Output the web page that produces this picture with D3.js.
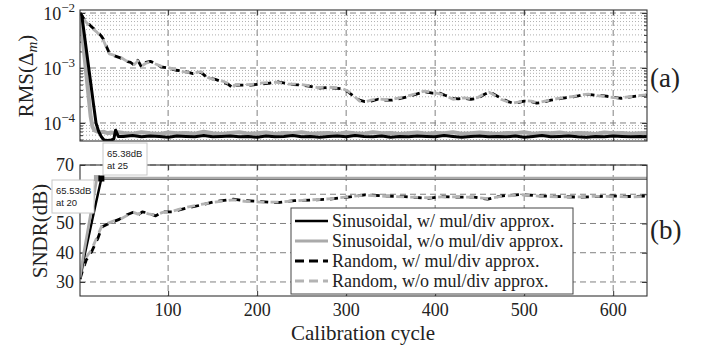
<!DOCTYPE html>
<html><head><meta charset="utf-8">
<script src="https://cdn.jsdelivr.net/npm/d3@7/dist/d3.min.js"></script>
<style>body{margin:0;background:#fff}svg{display:block}</style>
</head><body><svg id="c" width="701" height="347"></svg>
<script>
// ---------------- data ----------------
const xTicks = [100, 200, 300, 400, 500, 600];
const rmsTicks = [1e-2, 1e-3, 1e-4];
const rmsTickExp = ["\u22122", "\u22123", "\u22124"];
const sndrTicks = [30, 40, 50, 60, 70];
const sndrTickHiddenByTip = [60];
const seriesNames = ["Sinusoidal, w/ mul/div approx.", "Sinusoidal, w/o mul/div approx.",
                     "Random, w/ mul/div approx.", "Random, w/o mul/div approx."];

// (a) RMS, sinusoidal input: initial descent
const rmsSinBlackHeadCycles = [1, 3, 6, 10, 13, 16, 19, 22, 25, 28, 32, 36, 39, 41, 44];
const rmsSinBlackHead = [1e-2, 9e-3, 3.9e-3, 1.26e-3, 5.4e-4, 2.3e-4, 1.0e-4, 7.0e-5, 5.6e-5, 4.9e-5, 4.8e-5, 4.9e-5, 5.1e-5, 7.4e-5, 5.7e-5];
const rmsSinGreyHeadCycles = [1, 4, 7, 10, 13, 15, 17, 20, 24, 28, 32, 36, 40, 44];
const rmsSinGreyHead = [1e-2, 3.4e-3, 1.15e-3, 3.9e-4, 1.3e-4, 8.6e-5, 7.4e-5, 7.0e-5, 6.8e-5, 6.9e-5, 6.5e-5, 6.7e-5, 6.6e-5, 6.8e-5];
// (a) RMS, sinusoidal input: steady state
const noiseCycles = [50,60,70,80,90,100,110,120,130,140,150,160,170,180,190,200,210,220,230,240,
  250,260,270,280,290,300,310,320,330,340,350,360,370,380,390,400,410,420,430,440,
  450,460,470,480,490,500,510,520,530,540,550,560,570,580,590,600,610,620,630,638];
const rmsSinBlackTail = [5.7e-5,5.9e-5,5.6e-5,5.8e-5,5.7e-5,5.5e-5,5.8e-5,5.7e-5,5.6e-5,5.9e-5,
  5.6e-5,5.7e-5,5.8e-5,5.6e-5,5.7e-5,5.5e-5,5.8e-5,5.6e-5,5.7e-5,5.9e-5,
  5.6e-5,5.7e-5,5.5e-5,5.7e-5,5.8e-5,5.6e-5,5.9e-5,5.7e-5,5.6e-5,5.8e-5,
  5.5e-5,5.7e-5,5.6e-5,5.8e-5,5.7e-5,5.6e-5,5.9e-5,5.7e-5,5.5e-5,5.7e-5,
  5.8e-5,5.6e-5,5.7e-5,5.6e-5,5.8e-5,5.5e-5,5.7e-5,5.9e-5,5.6e-5,5.7e-5,
  5.8e-5,5.6e-5,5.5e-5,5.7e-5,5.6e-5,5.8e-5,5.7e-5,5.6e-5,5.7e-5,5.6e-5];
const rmsSinGreyTail = [6.6e-5,6.4e-5,6.8e-5,6.5e-5,6.3e-5,6.7e-5,6.5e-5,6.6e-5,6.4e-5,6.9e-5,
  6.5e-5,6.3e-5,6.6e-5,6.8e-5,6.4e-5,6.5e-5,6.7e-5,6.3e-5,6.6e-5,6.5e-5,
  6.8e-5,6.4e-5,6.5e-5,6.6e-5,6.3e-5,6.7e-5,6.5e-5,6.4e-5,6.8e-5,6.5e-5,
  6.6e-5,6.3e-5,6.5e-5,6.7e-5,6.4e-5,6.6e-5,6.5e-5,6.8e-5,6.4e-5,6.5e-5,
  6.7e-5,6.5e-5,6.3e-5,6.6e-5,6.5e-5,6.8e-5,6.4e-5,6.6e-5,6.5e-5,6.7e-5,
  6.4e-5,6.6e-5,6.5e-5,6.3e-5,6.7e-5,6.5e-5,6.6e-5,6.4e-5,6.5e-5,6.6e-5];

// (a) RMS, random input
const rmsRandCycles = [1,6,11,14,20,25,28,31,34,40, 47,53,58,62,66,70,75,80,86,92,
  100,109,118,128,137,145,152,161,168,173, 176,185,193,203,212,223,233,241,249,258,
  268,278,287,295,302,309,315,321,328,336, 344,352,361,369,378,388,397,405,411,416,
  420,426,433,440,448,455,461,468,474,482, 487,493,500,508,514,519,530,542,556,564,
  572,581,590,600,609,618,628,638];
const rmsRandBlack = [1.0e-2,7.6e-3,6.3e-3,5.6e-3,4.7e-3,3.8e-3,3.2e-3,2.4e-3,1.86e-3,1.66e-3,
  1.51e-3,1.32e-3,1.26e-3,1.12e-3,1.38e-3,1.05e-3,1.26e-3,1.32e-3,1.2e-3,1.05e-3,
  1.0e-3,9.1e-4,8.7e-4,7.9e-4,8.3e-4,6.5e-4,6.3e-4,5.6e-4,5.0e-4,4.3e-4,
  4.9e-4,4.9e-4,4.9e-4,5.1e-4,5.25e-4,5.6e-4,5.25e-4,5.0e-4,4.9e-4,4.7e-4,
  4.3e-4,4.4e-4,4.3e-4,4.2e-4,3.7e-4,3.0e-4,2.6e-4,2.45e-4,2.5e-4,2.7e-4,
  2.6e-4,2.6e-4,2.8e-4,3.0e-4,3.3e-4,3.7e-4,3.5e-4,3.5e-4,3.2e-4,3.0e-4,
  2.8e-4,2.75e-4,2.8e-4,2.7e-4,2.8e-4,3.3e-4,3.7e-4,3.2e-4,2.8e-4,2.45e-4,
  2.3e-4,2.35e-4,2.5e-4,2.45e-4,2.3e-4,2.35e-4,2.6e-4,2.8e-4,3.0e-4,3.2e-4,
  3.3e-4,3.2e-4,3.1e-4,2.95e-4,2.8e-4,2.95e-4,3.1e-4,3.2e-4];
const rmsRandGrey = [1.0e-2,7.4e-3,6.0e-3,5.4e-3,4.5e-3,3.6e-3,3.0e-3,2.3e-3,1.8e-3,1.7e-3,
  1.55e-3,1.35e-3,1.22e-3,1.15e-3,1.35e-3,1.08e-3,1.22e-3,1.3e-3,1.18e-3,1.08e-3,
  1.02e-3,9.3e-4,8.5e-4,8.1e-4,8.6e-4,6.7e-4,6.1e-4,5.8e-4,5.2e-4,4.5e-4,
  5.0e-4,5.0e-4,5.0e-4,5.3e-4,5.4e-4,5.5e-4,5.1e-4,5.1e-4,5.0e-4,4.8e-4,
  4.4e-4,4.5e-4,4.4e-4,4.3e-4,3.8e-4,3.1e-4,2.5e-4,2.4e-4,2.6e-4,2.75e-4,
  2.65e-4,2.7e-4,2.9e-4,3.1e-4,3.4e-4,3.8e-4,3.6e-4,3.4e-4,3.1e-4,2.9e-4,
  2.7e-4,2.8e-4,2.85e-4,2.75e-4,2.9e-4,3.4e-4,3.6e-4,3.1e-4,2.7e-4,2.4e-4,
  2.3e-4,2.4e-4,2.55e-4,2.5e-4,2.35e-4,2.4e-4,2.65e-4,2.85e-4,3.05e-4,3.25e-4,
  3.35e-4,3.15e-4,3.05e-4,2.9e-4,2.85e-4,3.0e-4,3.15e-4,3.25e-4];

// (b) SNDR, sinusoidal input
const sndrSinBlackCycles = [1, 5, 10, 15, 20, 25, 638];
const sndrSinBlack = [31, 37.5, 44.5, 51.5, 58.5, 65.38, 65.38];
const sndrSinGreyCycles = [1, 5, 10, 15, 20, 638];
const sndrSinGrey = [31.5, 39.5, 48, 56.8, 65.53, 65.53];
const sndrMarkers = [{cycle: 20, value: 65.53, label: ["65.53dB", "at 20"]},
                     {cycle: 25, value: 65.38, label: ["65.38dB", "at 25"]}];

// (b) SNDR, random input
const sndrRandCycles = [1,4,8,14,21,26,34,40,45,53, 62,66,71,78,86,94,105,120,137,152,
  163,173,186,204,223,242,261,280,302,321, 343,366,392,407,425,444,459,474,497,519,
  542,564,581,600,622,638];
const sndrRandBlack = [31,34,37.5,40.3,44.9,48.9,50.1,50.8,51.4,52.9,
  54,52.9,54,53.5,52.6,54,54,55.2,56.3,57.5,
  57.9,58.3,57.8,57.5,57.1,57.8,58,58.3,59,59.8,
  59.4,59.2,58.6,59.2,59,59,58.3,59.4,59.9,59.4,
  59.2,59,59.2,59.4,59.2,59.4];
const sndrRandGrey = [31.5,35,38.5,41,46,49.5,50.3,51,51.2,52.6,
  53.7,53.2,53.8,53.3,52.9,53.8,54.2,55.5,56.5,57.3,
  57.7,58.1,57.6,57.3,57.3,57.7,58.1,58.4,59.1,59.7,
  59.3,59.1,58.8,59.1,59.1,58.9,58.5,59.3,59.8,59.3,
  59.1,59.1,59.3,59.2,59.1,59.2];

// ---------------- drawing ----------------
const serif = "'Liberation Serif','DejaVu Serif',serif";
const sans = "'Liberation Sans',Arial,sans-serif";
const svg = d3.select("#c");
const X0 = 80, X1 = 647;
const A = {top: 10, bottom: 141}, B = {top: 165, bottom: 296};
const x = d3.scaleLinear().domain([1, 638]).range([X0, X1]);
const yA = d3.scaleLog().domain([4.7e-5, 1.135e-2]).range([A.bottom, A.top]);
const yB = d3.scaleLinear().domain([25.2, 70]).range([B.bottom, B.top]);

const styles = [
  {stroke: "#000", width: 2.4, dash: null, off: 0},
  {stroke: "#aaa", width: 2.8, dash: null, off: 0},
  {stroke: "#000", width: 2.8, dash: "8,6", off: 0},
  {stroke: "#b3b3b3", width: 2.8, dash: "8,6", off: 7}
];
const bandWidth = [3.0, 4.0];

const defs = svg.append("defs");
defs.append("clipPath").attr("id", "clipA").append("rect")
  .attr("x", X0).attr("y", A.top - 2).attr("width", X1 - X0).attr("height", A.bottom - A.top + 2);
defs.append("clipPath").attr("id", "clipB").append("rect")
  .attr("x", X0).attr("y", B.top - 4).attr("width", X1 - X0).attr("height", B.bottom - B.top + 4);

// ---- grid (a)
const gA = svg.append("g");
const minorA = yA.ticks().filter(v => !rmsTicks.some(t => Math.abs(v / t - 1) < 1e-6));
gA.selectAll(".mi").data(minorA).join("line")
  .attr("x1", X0).attr("x2", X1).attr("y1", d => yA(d)).attr("y2", d => yA(d))
  .attr("stroke", "#9a9a9a").attr("stroke-width", 0.8).attr("stroke-dasharray", "1,2");
gA.selectAll(".mj").data(rmsTicks).join("line")
  .attr("x1", X0).attr("x2", X1).attr("y1", d => yA(d)).attr("y2", d => yA(d))
  .attr("stroke", "#808080").attr("stroke-width", 1).attr("stroke-dasharray", "6,4");
gA.selectAll(".vx").data(xTicks).join("line")
  .attr("x1", d => x(d)).attr("x2", d => x(d)).attr("y1", A.top).attr("y2", A.bottom)
  .attr("stroke", "#808080").attr("stroke-width", 1).attr("stroke-dasharray", "6,4");

// ---- grid (b)
const gB = svg.append("g");
gB.selectAll(".mj").data(sndrTicks).join("line")
  .attr("x1", X0).attr("x2", X1).attr("y1", d => yB(d)).attr("y2", d => yB(d))
  .attr("stroke", "#808080").attr("stroke-width", 1).attr("stroke-dasharray", "6,4");
gB.selectAll(".vx").data(xTicks).join("line")
  .attr("x1", d => x(d)).attr("x2", d => x(d)).attr("y1", B.top).attr("y2", B.bottom)
  .attr("stroke", "#808080").attr("stroke-width", 1).attr("stroke-dasharray", "6,4");

// ---- axes ticks (inward, mirrored)
function axes(y, top, bottom, major, minor) {
  const g = svg.append("g");
  g.append("g").attr("transform", `translate(${X0},0)`).call(d3.axisLeft(y).tickValues(major).tickSize(-5).tickFormat(""));
  g.append("g").attr("transform", `translate(${X1},0)`).call(d3.axisRight(y).tickValues(major).tickSize(-5).tickFormat(""));
  if (minor) {
    g.append("g").attr("transform", `translate(${X0},0)`).call(d3.axisLeft(y).tickValues(minor).tickSize(-3).tickFormat(""));
    g.append("g").attr("transform", `translate(${X1},0)`).call(d3.axisRight(y).tickValues(minor).tickSize(-3).tickFormat(""));
  }
  g.append("g").attr("transform", `translate(0,${bottom})`).call(d3.axisBottom(x).tickValues(xTicks).tickSize(-5).tickFormat(""));
  g.append("g").attr("transform", `translate(0,${top})`).call(d3.axisTop(x).tickValues(xTicks).tickSize(-5).tickFormat(""));
  g.selectAll(".domain").remove();
  g.selectAll(".tick line").attr("stroke", "#333");
}
axes(yA, A.top, A.bottom, rmsTicks, minorA);
axes(yB, B.top, B.bottom, sndrTicks, null);

// ---- lines
const lineA = d3.line().x(d => x(d[0])).y(d => yA(d[1]));
const lineB = d3.line().x(d => x(d[0])).y(d => yB(d[1]));
function draw(g, gen, pts, s, w) {
  const p = g.append("path").datum(pts).attr("d", gen).attr("fill", "none")
    .attr("stroke", s.stroke).attr("stroke-width", w || s.width)
    .attr("stroke-linejoin", "round");
  if (s.dash) p.attr("stroke-dasharray", s.dash).attr("stroke-dashoffset", s.off).attr("stroke-linecap", "butt");
}
const pA = svg.append("g").attr("clip-path", "url(#clipA)");
draw(pA, lineA, d3.zip(rmsRandCycles, rmsRandBlack), styles[2]);
draw(pA, lineA, d3.zip(rmsRandCycles, rmsRandGrey), styles[3]);
draw(pA, lineA, d3.zip(rmsSinGreyHeadCycles.concat(noiseCycles), rmsSinGreyHead.concat(rmsSinGreyTail)), styles[1], bandWidth[1]);
draw(pA, lineA, d3.zip(rmsSinBlackHeadCycles.concat(noiseCycles), rmsSinBlackHead.concat(rmsSinBlackTail)), styles[0], bandWidth[0]);

const pB = svg.append("g").attr("clip-path", "url(#clipB)");
draw(pB, lineB, d3.zip(sndrRandCycles, sndrRandBlack), styles[2]);
draw(pB, lineB, d3.zip(sndrRandCycles, sndrRandGrey), styles[3]);
draw(pB, lineB, d3.zip(sndrSinBlackCycles, sndrSinBlack), styles[0]);
draw(pB, lineB, d3.zip(sndrSinGreyCycles, sndrSinGrey), styles[1]);

// ---- frames
[A, B].forEach(p => svg.append("rect").attr("x", X0).attr("y", p.top)
  .attr("width", X1 - X0).attr("height", p.bottom - p.top)
  .attr("fill", "none").attr("stroke", "#333").attr("stroke-width", 1.1));

// ---- tick labels
const tl = svg.append("g").attr("font-family", serif).attr("fill", "#222");
rmsTicks.forEach((t, i) => {
  const txt = tl.append("text").attr("x", 75).attr("y", yA(t) + 7).attr("text-anchor", "end").attr("font-size", 18);
  txt.append("tspan").text("10");
  txt.append("tspan").attr("dy", -8).attr("font-size", 13).text(rmsTickExp[i]);
});
tl.selectAll(".yb").data(sndrTicks.filter(t => !sndrTickHiddenByTip.includes(t))).join("text")
  .attr("x", 74).attr("y", d => yB(d) + 6).attr("text-anchor", "end").attr("font-size", 18).text(d => d);
tl.selectAll(".xb").data(xTicks).join("text")
  .attr("x", d => x(d)).attr("y", B.bottom + 20).attr("text-anchor", "middle").attr("font-size", 18).text(d => d);

// ---- axis titles
tl.append("text").attr("x", 363).attr("y", 340).attr("text-anchor", "middle")
  .attr("font-size", 21).text("Calibration cycle");
const ylA = tl.append("text").attr("transform", "translate(33,76) rotate(-90)").attr("text-anchor", "middle").attr("font-size", 21);
ylA.append("tspan").text("RMS(\u0394");
ylA.append("tspan").attr("dy", 4).attr("font-size", 15).attr("font-style", "italic").text("m");
ylA.append("tspan").attr("dy", -4).text(")");
tl.append("text").attr("transform", "translate(47,231) rotate(-90)").attr("text-anchor", "middle")
  .attr("font-size", 21).text("SNDR(dB)");
tl.append("text").attr("x", 650).attr("y", 87).attr("font-size", 27).text("(a)");
tl.append("text").attr("x", 650).attr("y", 239).attr("font-size", 27).text("(b)");

// ---- data tips
const tips = [{box: [52, 180, 42, 33]}, {box: [103, 143, 44, 32]}];
sndrMarkers.forEach((m, i) => {
  const [bx, by, bw, bh] = tips[i].box;
  svg.append("rect").attr("x", bx).attr("y", by).attr("width", bw).attr("height", bh)
    .attr("fill", "#fff").attr("stroke", "#c8c8c8").attr("stroke-width", 1);
  m.label.forEach((s, j) => svg.append("text").attr("x", bx + 4).attr("y", by + 13.5 + j * 12.5)
    .attr("font-family", sans).attr("font-size", 9.5).attr("fill", "#222").text(s));
});
sndrMarkers.forEach((m, i) => {
  svg.append("rect").attr("x", x(m.cycle) - 3).attr("y", yB(m.value) - 3).attr("width", 6).attr("height", 6)
    .attr("fill", i === 0 ? "#a8a8a8" : "#000");
});

// ---- legend
const lg = svg.append("g");
lg.append("rect").attr("x", 291).attr("y", 208).attr("width", 282).attr("height", 86)
  .attr("fill", "#fff").attr("stroke", "#444").attr("stroke-width", 1);
seriesNames.forEach((name, i) => {
  const yy = 221 + i * 20;
  const s = styles[i];
  const l = lg.append("line").attr("x1", 295).attr("x2", 328).attr("y1", yy).attr("y2", yy)
    .attr("stroke", s.stroke).attr("stroke-width", s.width);
  if (s.dash) l.attr("stroke-dasharray", "9,5");
  lg.append("text").attr("x", 332).attr("y", yy + 6).attr("font-family", serif)
    .attr("font-size", 18).attr("fill", "#222").text(name);
});
</script></body></html>
